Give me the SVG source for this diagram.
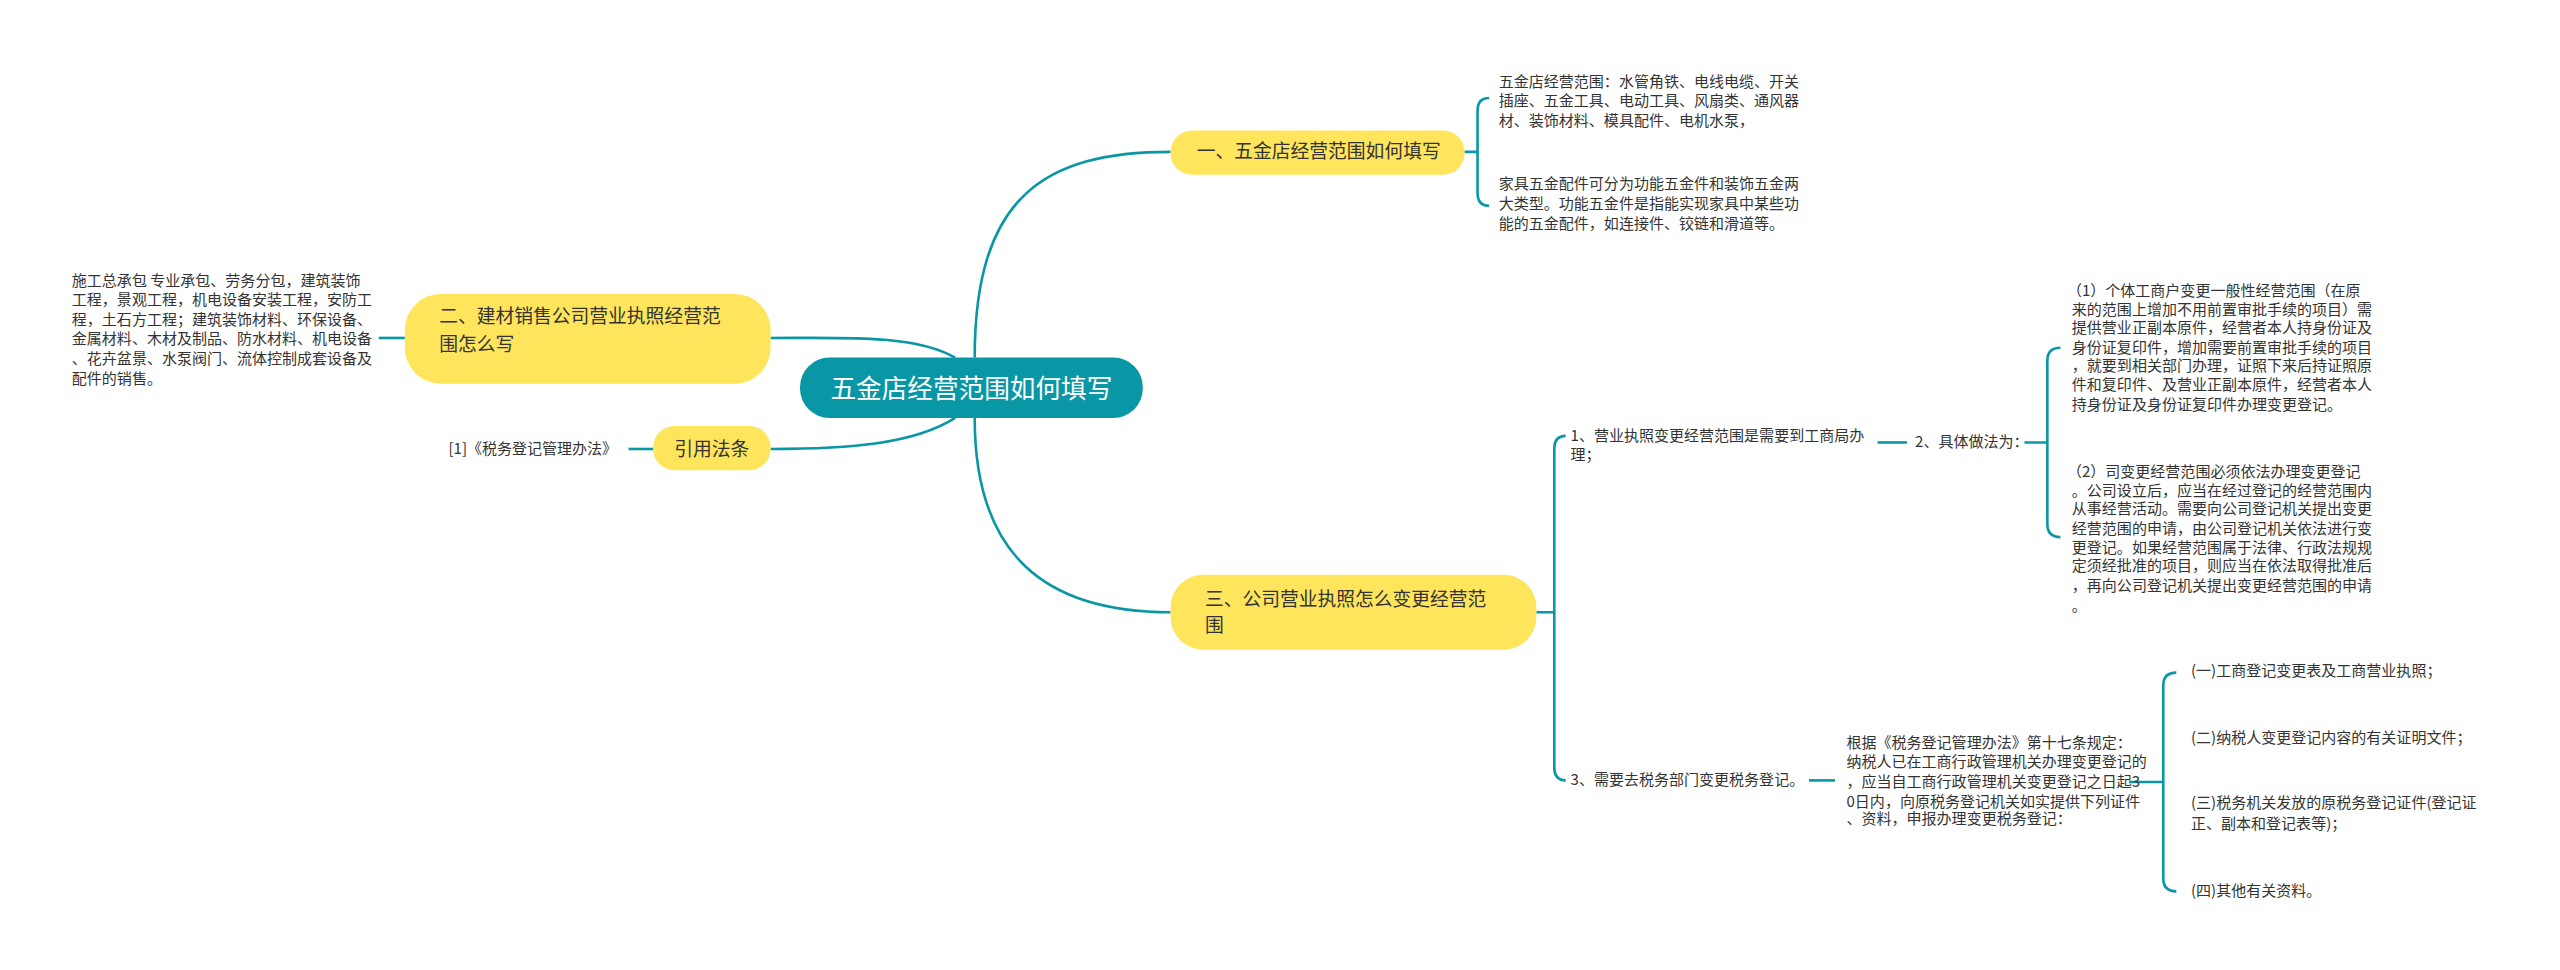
<svg xmlns="http://www.w3.org/2000/svg" width="2560" height="970" viewBox="0 0 2560 970">
<style>
.c{fill:none;stroke:#0a97a5;stroke-width:1.6}
.y{fill:#fee55b}
.t{font-family:"Noto Sans CJK SC","Noto Sans",sans-serif;font-size:9.2px;fill:#333}
.n{font-family:"Noto Sans CJK SC","Noto Sans",sans-serif;font-size:11.5px;fill:#333}
.m{font-family:"Noto Sans CJK SC","Noto Sans",sans-serif;font-size:15.7px;fill:#fff}
</style>
<rect width="2560" height="970" fill="#fff"/>
<g transform="scale(1.63265)">
<g id="connectors">
<path class="c" d="M597 219 C597 120 640 93 717 93"/>
<path class="c" d="M585 219 C560 205 520 207 472 207"/>
<path class="c" d="M585 256 C560 272 520 275 472 275"/>
<path class="c" d="M597 256 C597 340 640 375 717 375"/>
<path class="c" d="M897 93 H905 M912 60 Q905 60 905 68 V118 Q905 126 912 126"/>
<path class="c" d="M248 207 H232"/>
<path class="c" d="M400 275 H385"/>
<path class="c" d="M941 375 H952 M959 267 Q952 267 952 275 V470 Q952 478 959 478"/>
<path class="c" d="M1150 271 H1168"/>
<path class="c" d="M1240 271 H1254 M1262 213 Q1254 213 1254 221 V321 Q1254 329 1262 329"/>
<path class="c" d="M1108 478 H1124"/>
<path class="c" d="M1304 479 H1325 M1333 412 Q1325 412 1325 420 V538 Q1325 546 1333 546"/>
</g>
<g id="center"><rect x="490" y="219" width="210" height="37" rx="18" fill="#0a97a5"/><text class="m" x="595" y="244" text-anchor="middle">五金店经营范围如何填写</text></g>
<g id="n1"><rect class="y" x="717" y="80" width="180" height="27" rx="13"/><text class="n" x="733" y="97">一、五金店经营范围如何填写</text></g>
<g id="n2"><rect class="y" x="248" y="180" width="224" height="55" rx="22"/><text class="n" x="269" y="198">二、建材销售公司营业执照经营范</text><text class="n" x="269" y="215">围怎么写</text></g>
<g id="n3"><rect class="y" x="400" y="261" width="72" height="27" rx="13"/><text class="n" x="436" y="279" text-anchor="middle">引用法条</text></g>
<g id="n4"><rect class="y" x="717" y="352" width="224" height="46" rx="20"/><text class="n" x="738" y="371">三、公司营业执照怎么变更经营范</text><text class="n" x="738" y="387">围</text></g>
<g id="t1" class="t"><text x="918" y="53">五金店经营范围：水管角铁、电线电缆、开关</text><text x="918" y="65">插座、五金工具、电动工具、风扇类、通风器</text><text x="918" y="77">材、装饰材料、模具配件、电机水泵，</text></g>
<g id="t2" class="t"><text x="918" y="116">家具五金配件可分为功能五金件和装饰五金两</text><text x="918" y="128">大类型。功能五金件是指能实现家具中某些功</text><text x="918" y="140">能的五金配件，如连接件、铰链和滑道等。</text></g>
<g id="t3" class="t"><text x="44" y="175">施工总承包 专业承包、劳务分包，建筑装饰</text><text x="44" y="187">工程，景观工程，机电设备安装工程，安防工</text><text x="44" y="199">程，土石方工程；建筑装饰材料、环保设备、</text><text x="44" y="211">金属材料、木材及制品、防水材料、机电设备</text><text x="44" y="223">、花卉盆景、水泵阀门、流体控制成套设备及</text><text x="44" y="235">配件的销售。</text></g>
<g id="t4" class="t"><text x="378" y="278" text-anchor="end">[1]《税务登记管理办法》</text></g>
<g id="t5" class="t"><text x="962" y="270">1、营业执照变更经营范围是需要到工商局办</text><text x="962" y="282">理；</text></g>
<g id="t6" class="t"><text x="1173" y="274">2、具体做法为：</text></g>
<g id="t7" class="t"><text x="1266" y="181">（1）个体工商户变更一般性经营范围（在原</text><text x="1269" y="193">来的范围上增加不用前置审批手续的项目）需</text><text x="1269" y="204">提供营业正副本原件，经营者本人持身份证及</text><text x="1269" y="216">身份证复印件，增加需要前置审批手续的项目</text><text x="1269" y="227">，就要到相关部门办理，证照下来后持证照原</text><text x="1269" y="239">件和复印件、及营业正副本原件，经营者本人</text><text x="1269" y="251">持身份证及身份证复印件办理变更登记。</text></g>
<g id="t8" class="t"><text x="1266" y="292">（2）司变更经营范围必须依法办理变更登记</text><text x="1269" y="304">。公司设立后，应当在经过登记的经营范围内</text><text x="1269" y="315">从事经营活动。需要向公司登记机关提出变更</text><text x="1269" y="327">经营范围的申请，由公司登记机关依法进行变</text><text x="1269" y="339">更登记。如果经营范围属于法律、行政法规规</text><text x="1269" y="350">定须经批准的项目，则应当在依法取得批准后</text><text x="1269" y="362">，再向公司登记机关提出变更经营范围的申请</text><text x="1269" y="374">。</text></g>
<g id="t9" class="t"><text x="962" y="481">3、需要去税务部门变更税务登记。</text></g>
<g id="t10" class="t"><text x="1131" y="458">根据《税务登记管理办法》第十七条规定：</text><text x="1131" y="470">纳税人已在工商行政管理机关办理变更登记的</text><text x="1131" y="482">，应当自工商行政管理机关变更登记之日起3</text><text x="1131" y="494">0日内，向原税务登记机关如实提供下列证件</text><text x="1131" y="505">、资料，申报办理变更税务登记：</text></g>
<g id="t11" class="t"><text x="1342" y="414">(一)工商登记变更表及工商营业执照；</text></g>
<g id="t12" class="t"><text x="1342" y="455">(二)纳税人变更登记内容的有关证明文件；</text></g>
<g id="t13" class="t"><text x="1342" y="495">(三)税务机关发放的原税务登记证件(登记证</text><text x="1342" y="508">正、副本和登记表等)；</text></g>
<g id="t14" class="t"><text x="1342" y="549">(四)其他有关资料。</text></g>
</g>
</svg>
